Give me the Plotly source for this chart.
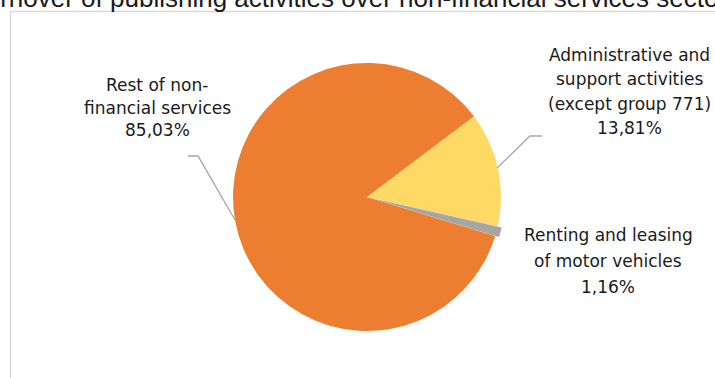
import plotly.graph_objects as go

W, H = 715, 378

categories = ["Administrative and support activities (except group 771)",
              "Renting and leasing of motor vehicles",
              "Rest of non-financial services"]
values = [13.81, 1.16, 85.03]
colors = ["#FFD966", "#A5A5A5", "#ED7D31"]
pulls = [0, 0.03, 0]
label_lines = [["Administrative and", "support activities", "(except group 771)", "13,81%"],
               ["Renting and leasing", "of motor vehicles", "1,16%"],
               ["Rest of non-", "financial services", "85,03%"]]
title_text = "Share of turnover of publishing activities over non-financial services sector"

def px(x):
    return x / W

def py(y):
    return 1 - y / H

cx, cy, r = 367, 197, 134
half_h = r * (1 + max(pulls)) / H
half_w = 0.3

fig = go.Figure(go.Pie(
    labels=categories, values=values, sort=False, direction="clockwise",
    rotation=53, pull=pulls, textinfo="none", hoverinfo="label+percent",
    marker=dict(colors=colors, line=dict(width=0)),
    domain=dict(x=[px(cx) - half_w, px(cx) + half_w],
                y=[py(cy) - half_h, py(cy) + half_h]),
    showlegend=False,
))

label_font = dict(family="DejaVu Sans", size=17, color="#1a1a1a")
# (center x, first line y, line spacing) in pixels
label_pos = [(629, 55, 24.4), (608, 235, 26), (157, 85.5, 22.3)]
annotations = []
for lines, (x, y0, dy) in zip(label_lines, label_pos):
    for i, t in enumerate(lines):
        annotations.append(dict(text=t, x=px(x), y=py(y0 + i * dy), xref="paper", yref="paper",
                                xanchor="center", yanchor="middle", showarrow=False,
                                font=label_font, align="center"))
annotations.append(dict(text=title_text, x=px(-129), y=py(-2.5), xref="paper", yref="paper",
                        xanchor="left", yanchor="middle", showarrow=False,
                        font=dict(family="Liberation Sans", size=26, color="#1a1a1a")))

def path(points):
    return "M " + " L ".join(f"{px(x)},{py(y)}" for x, y in points)

shapes = [
    dict(type="path", xref="paper", yref="paper",
         path=path([(10.5, H + 5), (10.5, 11.5), (W + 5, 11.5)]),
         line=dict(color="#D9D9D9", width=1.5)),
    dict(type="path", xref="paper", yref="paper",
         path=path([(188, 156), (198, 156), (235, 220)]),
         line=dict(color="#A6A6A6", width=1.3)),
    dict(type="path", xref="paper", yref="paper",
         path=path([(542, 136), (530, 136), (497, 168)]),
         line=dict(color="#A6A6A6", width=1.3)),
]

fig.update_layout(width=W, height=H, margin=dict(l=0, r=0, t=0, b=0),
                  paper_bgcolor="white", plot_bgcolor="white",
                  annotations=annotations, shapes=shapes)
fig.write_html("out.html")
